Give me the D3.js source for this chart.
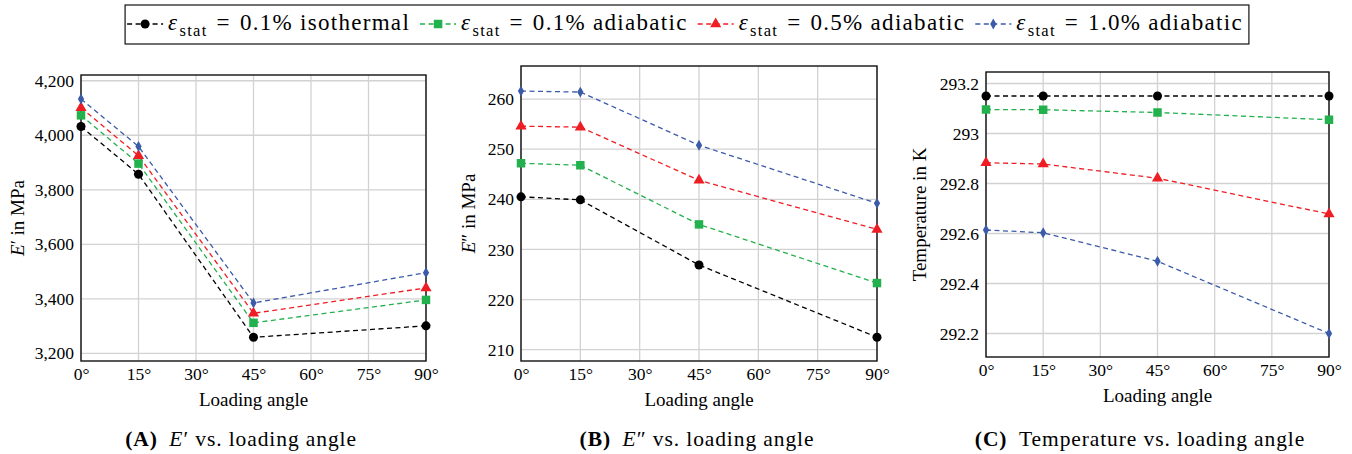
<!DOCTYPE html>
<html>
<head>
<meta charset="utf-8">
<script src="https://cdn.jsdelivr.net/npm/d3@7.9.0/dist/d3.min.js"></script>
<style>
  body { margin: 0; background: #fff; }
  svg { display: block; }
  svg text { font-family: "Liberation Serif", "Times New Roman", serif; fill: #000; }
</style>
</head>
<body>
<svg id="chart" width="1352" height="454"></svg>
<script>
// loading angles (x values) and x tick labels
const angles = [0, 15, 45, 90];
const xTicks = [0, 15, 30, 45, 60, 75, 90];

// legend entries
const seriesLabels = [
  { strain: '0.1%', kind: 'isothermal' },
  { strain: '0.1%', kind: 'adiabatic' },
  { strain: '0.5%', kind: 'adiabatic' },
  { strain: '1.0%', kind: 'adiabatic' },
];
const seriesColors = ['#000000', '#22b14c', '#ee1d23', '#3b5aa8'];
const seriesSymbols = [d3.symbolCircle, d3.symbolSquare, d3.symbolTriangle, d3.symbolDiamond];
const symbolSizes = [64, 72, 54, 34];

// (A) storage modulus E' in MPa
const storageIso01 = [4032, 3857, 3259, 3301];
const storageAdi01 = [4073, 3896, 3312, 3396];
const storageAdi05 = [4101, 3925, 3347, 3440];
const storageAdi10 = [4133, 3959, 3385, 3496];
const storageTicks = [3200, 3400, 3600, 3800, 4000, 4200];

// (B) loss modulus E'' in MPa
const lossIso01 = [240.5, 239.9, 226.9, 212.5];
const lossAdi01 = [247.2, 246.8, 235.0, 223.3];
const lossAdi05 = [254.6, 254.4, 243.8, 234.0];
const lossAdi10 = [261.6, 261.4, 250.8, 239.2];
const lossTicks = [210, 220, 230, 240, 250, 260];

// (C) temperature in K
const tempIso01 = [293.15, 293.15, 293.15, 293.15];
const tempAdi01 = [293.096, 293.095, 293.084, 293.055];
const tempAdi05 = [292.883, 292.878, 292.821, 292.678];
const tempAdi10 = [292.614, 292.603, 292.489, 292.2];
const tempTicks = [292.2, 292.4, 292.6, 292.8, 293, 293.2];

const FONT = '"Liberation Serif", "Times New Roman", serif';
const svg = d3.select('#chart');

const panels = [
  {
    series: [storageIso01, storageAdi01, storageAdi05, storageAdi10],
    ticks: storageTicks, domain: [3172, 4221], fmt: d3.format(','),
    box: { left: 81, right: 426, top: 75, bottom: 361 },
    ylabel: 'storage', labelX: 17, captionX: 241,
    caption: { tag: '(A)', sym: '\u2032', rest: ' vs. loading angle' },
  },
  {
    series: [lossIso01, lossAdi01, lossAdi05, lossAdi10],
    ticks: lossTicks, domain: [207.75, 266.6], fmt: d3.format('d'),
    box: { left: 521, right: 877, top: 66, bottom: 361 },
    ylabel: 'loss', labelX: 468, captionX: 697,
    caption: { tag: '(B)', sym: '\u2033', rest: ' vs. loading angle' },
  },
  {
    series: [tempIso01, tempAdi01, tempAdi05, tempAdi10],
    ticks: tempTicks, domain: [292.106, 293.246], fmt: (d) => String(+d.toFixed(1)),
    box: { left: 986, right: 1329, top: 72, bottom: 357 },
    ylabel: 'temp', labelX: 919, captionX: 1140,
    caption: { tag: '(C)', sym: null, rest: 'Temperature vs. loading angle' },
  },
];

const line = (x, y) => d3.line().x((d, i) => x(angles[i])).y((d) => y(d));

panels.forEach((p) => {
  const b = p.box;
  const x = d3.scaleLinear().domain([0, 90]).range([b.left, b.right]);
  const y = d3.scaleLinear().domain(p.domain).range([b.bottom, b.top]);
  const g = svg.append('g');

  // grid
  g.append('g').selectAll('line').data(xTicks).join('line')
    .attr('x1', (d) => x(d)).attr('x2', (d) => x(d))
    .attr('y1', b.top).attr('y2', b.bottom)
    .attr('stroke', '#d2d2d2').attr('stroke-width', 1.3);
  g.append('g').selectAll('line').data(p.ticks).join('line')
    .attr('x1', b.left).attr('x2', b.right)
    .attr('y1', (d) => y(d)).attr('y2', (d) => y(d))
    .attr('stroke', '#d2d2d2').attr('stroke-width', 1.3);

  // axes (labels only, frame drawn separately)
  const xAxis = g.append('g').attr('transform', `translate(0,${b.bottom})`)
    .call(d3.axisBottom(x).tickValues(xTicks).tickSize(0).tickPadding(7).tickFormat((d) => d + '\u00b0'));
  const yAxis = g.append('g').attr('transform', `translate(${b.left},0)`)
    .call(d3.axisLeft(y).tickValues(p.ticks).tickSize(0).tickPadding(7).tickFormat(p.fmt));
  [xAxis, yAxis].forEach((a) => {
    a.attr('font-family', FONT);
    a.select('.domain').remove();
    a.selectAll('text').attr('font-size', 17.5).style('font-family', FONT);
  });

  // frame
  g.append('rect')
    .attr('x', b.left).attr('y', b.top)
    .attr('width', b.right - b.left).attr('height', b.bottom - b.top)
    .attr('fill', 'none').attr('stroke', '#111').attr('stroke-width', 1.4);

  // series lines + markers
  p.series.forEach((vals, si) => {
    g.append('path').datum(vals)
      .attr('d', line(x, y))
      .attr('fill', 'none')
      .attr('stroke', seriesColors[si])
      .attr('stroke-width', 1.3)
      .attr('stroke-dasharray', '5,3.5');
  });
  p.series.forEach((vals, si) => {
    g.append('g').selectAll('path').data(vals).join('path')
      .attr('transform', (d, i) => `translate(${x(angles[i])},${y(d)})`)
      .attr('d', d3.symbol(seriesSymbols[si], symbolSizes[si]))
      .attr('fill', seriesColors[si]);
  });

  // x label
  g.append('text')
    .attr('x', (b.left + b.right) / 2).attr('y', b.bottom + 45)
    .attr('text-anchor', 'middle').attr('font-size', 19)
    .style('font-family', FONT)
    .text('Loading angle');

  // y label
  const yl = g.append('text')
    .attr('transform', `translate(${p.labelX},${(b.top + b.bottom) / 2}) rotate(-90)`)
    .attr('text-anchor', 'middle').attr('dy', '0.35em').attr('font-size', 19)
    .style('font-family', FONT);
  if (p.ylabel === 'temp') {
    yl.text('Temperature in K');
  } else {
    yl.append('tspan').attr('font-style', 'italic').text('E');
    yl.append('tspan').text((p.ylabel === 'storage' ? '\u2032' : '\u2033') + ' in MPa');
  }

  // caption
  const cap = svg.append('text')
    .attr('x', p.captionX).attr('y', 446)
    .attr('text-anchor', 'middle').attr('font-size', 21.5)
    .attr('letter-spacing', 0.9)
    .style('font-family', FONT);
  cap.append('tspan').attr('font-weight', 'bold').text(p.caption.tag + '\u2002');
  if (p.caption.sym) {
    cap.append('tspan').attr('font-style', 'italic').text('E');
    cap.append('tspan').text(p.caption.sym + p.caption.rest);
  } else {
    cap.append('tspan').text(p.caption.rest);
  }
});

// legend
const legend = svg.append('g');
const legendBox = legend.append('rect');
let cx = 0;
seriesLabels.forEach((s, i) => {
  const item = legend.append('g').attr('transform', `translate(${cx},0)`);
  item.append('line')
    .attr('x1', 2).attr('x2', 38).attr('y1', 24).attr('y2', 24)
    .attr('stroke', seriesColors[i]).attr('stroke-width', 1.3)
    .attr('stroke-dasharray', '5,3.5');
  item.append('path')
    .attr('transform', 'translate(20,24)')
    .attr('d', d3.symbol(seriesSymbols[i], symbolSizes[i]))
    .attr('fill', seriesColors[i]);
  const t = item.append('text').attr('x', 43).attr('y', 30).attr('font-size', 23)
    .attr('letter-spacing', 1.3)
    .style('font-family', FONT);
  t.append('tspan').attr('font-style', 'italic').text('\u03b5');
  t.append('tspan').attr('font-size', 16.5).attr('dx', 1).attr('dy', 6).text('stat');
  t.append('tspan').attr('dx', 9).attr('dy', -6).text('=');
  t.append('tspan').attr('dx', 9).text(s.strain);
  t.append('tspan').attr('dx', 7).text(s.kind);
  const bb = t.node().getBBox();
  cx += bb.x + bb.width + 8;
});
const totalW = cx - 2;
const lx = 687 - totalW / 2;
legend.attr('transform', `translate(${lx},0)`);
legendBox.attr('x', 0).attr('y', 5).attr('width', totalW).attr('height', 39)
  .attr('fill', '#fff').attr('stroke', '#111').attr('stroke-width', 1.2);
</script>
</body>
</html>
